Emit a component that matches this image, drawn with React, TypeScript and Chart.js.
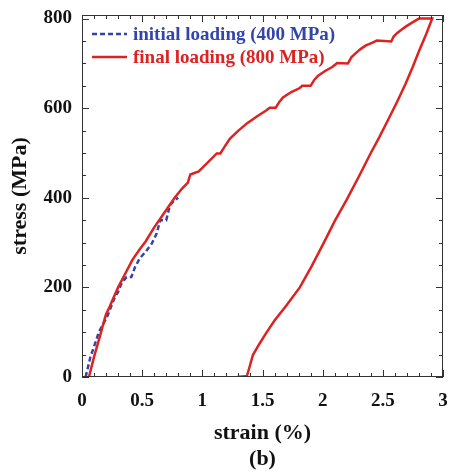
import React, { useEffect, useRef } from "react";
import { Chart, registerables } from "chart.js";

Chart.register(...registerables);

// initial loading (400 MPa) – blue dashed
const initialStrain = [0.03, 0.05, 0.07, 0.09, 0.11, 0.14, 0.18, 0.21, 0.23, 0.27, 0.30, 0.33, 0.37, 0.41, 0.44, 0.48, 0.53, 0.58, 0.62, 0.65, 0.70, 0.73, 0.77, 0.80];
const initialStress = [0, 22, 45, 60, 76, 100, 120, 135, 149, 176, 190, 210, 223, 223, 245, 265, 280, 298, 320, 350, 350, 383, 395, 400];

// final loading (800 MPa) – red solid (loading then unloading)
const finalStrain = [
  0.058, 0.10, 0.15, 0.18, 0.20, 0.23, 0.26, 0.30, 0.35, 0.42, 0.48, 0.53, 0.60, 0.68, 0.77, 0.83, 0.88, 0.90, 0.97, 1.05, 1.12, 1.15,
  1.18, 1.23, 1.30, 1.37, 1.45, 1.53, 1.56, 1.61, 1.64, 1.67, 1.74, 1.81, 1.83, 1.90, 1.93, 1.96, 2.02, 2.08, 2.12, 2.21,
  2.24, 2.28, 2.32, 2.36, 2.41, 2.45, 2.57, 2.59, 2.62, 2.66, 2.69, 2.75, 2.80, 2.91,
  2.86, 2.80, 2.75, 2.69, 2.62, 2.54, 2.47, 2.40, 2.30, 2.20, 2.10, 2.01, 1.91, 1.81, 1.70, 1.60, 1.53, 1.47, 1.42, 1.39, 1.37, 1.29,
];
const finalStress = [
  0, 45, 92, 122, 140, 157, 176, 200, 226, 262, 285, 303, 334, 365, 400, 420, 434, 452, 459, 480, 499, 499,
  512, 532, 550, 566, 581, 595, 601, 601, 614, 624, 636, 645, 650, 650, 663, 672, 683, 692, 701, 700,
  714, 724, 733, 740, 746, 751, 749, 760, 768, 776, 782, 792, 800, 800,
  765, 727, 693, 655, 615, 572, 535, 500, 447, 396, 348, 300, 248, 200, 160, 126, 98, 72, 49, 20, 2, 0,
];

const xTickLabels = ["0", "0.5", "1", "1.5", "2", "2.5", "3"];
const yTickValues = [0, 200, 400, 600, 800];
const legendLabels = ["initial loading (400 MPa)", "final loading (800 MPa)"];
const xTitle = ["strain (%)", "(b)"];
const yTitle = "stress (MPa)";

const BLUE = "#3344aa";
const RED = "#dd2222";
const FONT = "'Liberation Serif', 'Times New Roman', serif";

const framePlugin = {
  id: "frameTicks",
  afterDraw(chart: any) {
    const { ctx, chartArea: a, scales } = chart;
    const xs = scales.x, ys = scales.y;
    ctx.save();
    ctx.strokeStyle = "#333";
    ctx.lineWidth = 1;
    ctx.strokeRect(a.left + 0.5, a.top + 0.5, a.right - a.left - 1, a.bottom - a.top - 1);
    ctx.beginPath();
    for (let i = 0; i <= 30; i++) {
      const v = i / 10;
      const px = Math.round(xs.getPixelForValue(v)) + 0.5;
      const len = i % 5 === 0 ? 7 : 4;
      ctx.moveTo(px, a.bottom); ctx.lineTo(px, a.bottom - len);
      ctx.moveTo(px, a.top); ctx.lineTo(px, a.top + len);
    }
    for (let i = 0; i <= 16; i++) {
      const v = i * 50;
      const py = Math.round(ys.getPixelForValue(v)) + 0.5;
      const len = i % 4 === 0 ? 7 : 4;
      ctx.moveTo(a.left, py); ctx.lineTo(a.left + len, py);
      ctx.moveTo(a.right, py); ctx.lineTo(a.right - len, py);
    }
    ctx.stroke();

    // legend inside plot
    const lx0 = a.left + 10, lx1 = a.left + 45, tx = a.left + 51;
    const rows = [
      { y: a.top + 19, color: BLUE, dash: [5, 3], text: legendLabels[0] },
      { y: a.top + 42, color: RED, dash: [], text: legendLabels[1] },
    ];
    ctx.font = `bold 19px ${FONT}`;
    ctx.textBaseline = "middle";
    ctx.textAlign = "left";
    for (const r of rows) {
      ctx.beginPath();
      ctx.setLineDash(r.dash);
      ctx.strokeStyle = r.color;
      ctx.lineWidth = 2.5;
      ctx.moveTo(lx0, r.y); ctx.lineTo(lx1, r.y);
      ctx.stroke();
      ctx.setLineDash([]);
      ctx.fillStyle = r.color;
      ctx.fillText(r.text, tx, r.y + 1);
    }
    ctx.restore();
  },
};

export default function App() {
  const ref = useRef<HTMLCanvasElement>(null);
  useEffect(() => {
    if (!ref.current) return;
    const chart = new Chart(ref.current, {
      type: "line",
      data: {
        datasets: [
          {
            label: legendLabels[1],
            data: finalStrain.map((x, i) => ({ x, y: finalStress[i] })),
            borderColor: RED,
            borderWidth: 2.5,
            pointRadius: 0,
            tension: 0,
            fill: false,
          },
          {
            label: legendLabels[0],
            data: initialStrain.map((x, i) => ({ x, y: initialStress[i] })),
            borderColor: BLUE,
            borderWidth: 2.5,
            borderDash: [5, 3],
            pointRadius: 0,
            tension: 0,
            fill: false,
          },
        ],
      },
      options: {
        animation: false,
        responsive: true,
        maintainAspectRatio: false,
        layout: { padding: { left: 0, right: 6, top: 15, bottom: 0 } },
        plugins: { legend: { display: false }, tooltip: { enabled: false } },
        scales: {
          x: {
            type: "linear",
            min: 0,
            max: 3,
            grid: { display: false, drawTicks: false },
            border: { display: false },
            ticks: {
              stepSize: 0.5,
              padding: 13,
              color: "#111",
              font: { family: FONT, size: 19, weight: "bold" },
              callback: (v: number) => xTickLabels[Math.round(v * 2)] ?? "",
            },
            title: {
              display: true,
              text: xTitle,
              color: "#111",
              font: { family: FONT, size: 22, weight: "bold", lineHeight: "26px" },
              padding: { top: 0, bottom: 2 },
            },
            afterFit: (s: any) => { s.height = 97; s.paddingLeft = 0; s.paddingRight = 0; },
          },
          y: {
            type: "linear",
            min: 0,
            max: 808,
            grid: { display: false, drawTicks: false },
            border: { display: false },
            afterBuildTicks: (s: any) => { s.ticks = yTickValues.map((v) => ({ value: v })); },
            ticks: {
              padding: 10,
              color: "#111",
              font: { family: FONT, size: 19, weight: "bold" },
              callback: (v: number) => String(v),
            },
            title: {
              display: true,
              text: yTitle,
              color: "#111",
              font: { family: FONT, size: 22, weight: "bold" },
              padding: { top: 7, bottom: 0 },
            },
            afterFit: (s: any) => { s.width = 82; s.paddingTop = 0; s.paddingBottom = 0; },
          },
        },
      } as any,
      plugins: [framePlugin],
    });
    return () => chart.destroy();
  }, []);
  return (
    <div style={{ position: "absolute", left: 0, top: 0, width: 449, height: 474, background: "#fff" }}>
      <canvas ref={ref} />
    </div>
  );
}
